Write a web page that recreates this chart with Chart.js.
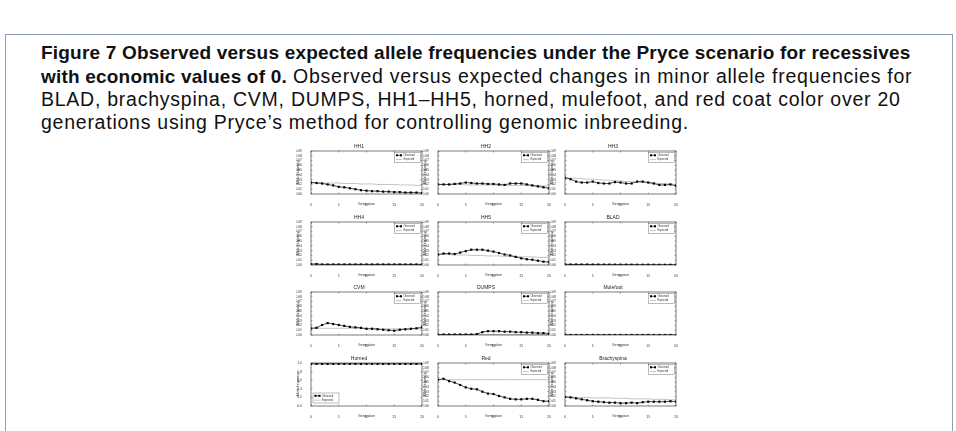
<!DOCTYPE html>
<html>
<head>
<meta charset="utf-8">
<script src="https://cdn.jsdelivr.net/npm/chart.js@4/dist/chart.umd.min.js"></script>
<style>
body { margin:0; background:#fff; width:956px; height:431px; overflow:hidden; position:relative; font-family:"Liberation Sans", Arial, sans-serif; }
.frame { position:absolute; left:5px; top:34px; width:946px; height:400px; border-left:1px solid #8d9db5; border-top:1px solid #8d9db5; border-right:1px solid #8d9db5; }
.cap { position:absolute; left:41px; top:41px; font-size:19.5px; line-height:22.5px; white-space:nowrap; color:#111; letter-spacing:0.75px; }
.cap b { font-size:19px; letter-spacing:0.2px; }
.panel { position:absolute; }
</style>
</head>
<body>
<div class="frame"></div>
<div class="cap">
<b>Figure 7 Observed versus expected allele frequencies under the Pryce scenario for recessives</b><br>
<b>with economic values of 0.</b> Observed versus expected changes in minor allele frequencies for<br>
BLAD, brachyspina, CVM, DUMPS, HH1–HH5, horned, mulefoot, and red coat color over 20<br>
generations using Pryce’s method for controlling genomic inbreeding.
</div>
<script>
"use strict";

// generations on the x axis
const generations = [0,1,2,3,4,5,6,7,8,9,10,11,12,13,14,15,16,17,18,19,20];
const panelTitles = ['HH1','HH2','HH3','HH4','HH5','BLAD','CVM','DUMPS','Mulefoot','Horned','Red','Brachyspina'];
const freqTicks = [0,0.01,0.02,0.03,0.04,0.05,0.06,0.07,0.08,0.09];
const hornedTicks = [0,0.2,0.4,0.6,0.8,1.0];
const genTicks = [0,5,10,15,20];

// observed / expected minor allele frequencies
const hh1Observed = [0.024,0.023,0.022,0.020,0.018,0.015,0.014,0.012,0.010,0.008,0.007,0.006,0.006,0.005,0.005,0.004,0.004,0.003,0.003,0.003,0.002];
const hh1Expected = [0.024,0.024,0.023,0.023,0.023,0.023,0.022,0.022,0.022,0.021,0.021,0.021,0.020,0.020,0.020,0.020,0.019,0.019,0.019,0.018,0.018];
const hh2Observed = [0.020,0.020,0.020,0.021,0.022,0.024,0.023,0.022,0.022,0.021,0.021,0.020,0.019,0.022,0.022,0.022,0.020,0.018,0.016,0.014,0.012];
const hh2Expected = [0.020,0.020,0.020,0.020,0.020,0.019,0.019,0.019,0.019,0.019,0.019,0.018,0.018,0.018,0.018,0.018,0.018,0.017,0.017,0.017,0.017];
const hh3Observed = [0.034,0.031,0.026,0.024,0.024,0.026,0.023,0.022,0.022,0.025,0.024,0.022,0.022,0.026,0.026,0.024,0.022,0.019,0.019,0.020,0.017];
const hh3Expected = [0.034,0.033,0.033,0.032,0.031,0.031,0.030,0.029,0.029,0.028,0.027,0.026,0.026,0.025,0.024,0.024,0.023,0.022,0.022,0.021,0.020];
const hh4Observed = [0.002,0.002,0.001,0.001,0.001,0.001,0.001,0.001,0.001,0.001,0.001,0.001,0.001,0.001,0.001,0.001,0.001,0.001,0.001,0.001,0.001];
const hh4Expected = [0.002,0.002,0.002,0.002,0.002,0.002,0.002,0.002,0.002,0.002,0.002,0.002,0.002,0.002,0.002,0.002,0.002,0.002,0.002,0.002,0.002];
const hh5Observed = [0.022,0.024,0.024,0.023,0.026,0.029,0.032,0.032,0.032,0.030,0.028,0.025,0.022,0.020,0.017,0.014,0.012,0.011,0.009,0.007,0.006];
const hh5Expected = [0.022,0.022,0.022,0.021,0.021,0.021,0.020,0.020,0.020,0.019,0.019,0.019,0.018,0.018,0.018,0.017,0.017,0.017,0.016,0.016,0.016];
const bladObserved = [0.0015,0.001,0.001,0.001,0.001,0.0008,0.0008,0.0008,0.0007,0.0007,0.0006,0.0006,0.0006,0.0005,0.0005,0.0005,0.0005,0.0004,0.0004,0.0004,0.0004];
const bladExpected = [0.0015,0.0015,0.0015,0.0015,0.0014,0.0014,0.0014,0.0014,0.0014,0.0013,0.0013,0.0013,0.0013,0.0013,0.0012,0.0012,0.0012,0.0012,0.0012,0.0011,0.0011];
const cvmObserved = [0.014,0.015,0.021,0.025,0.023,0.021,0.019,0.017,0.016,0.015,0.013,0.013,0.012,0.011,0.010,0.009,0.011,0.012,0.013,0.014,0.016];
const cvmExpected = [0.014,0.014,0.014,0.014,0.014,0.014,0.014,0.014,0.014,0.014,0.014,0.014,0.013,0.013,0.013,0.013,0.013,0.013,0.013,0.013,0.013];
const dumpsObserved = [0.001,0.001,0.001,0.001,0.001,0.001,0.001,0.002,0.006,0.008,0.008,0.008,0.007,0.007,0.006,0.006,0.005,0.005,0.004,0.004,0.003];
const dumpsExpected = [0.001,0.001,0.001,0.001,0.001,0.001,0.001,0.001,0.001,0.001,0.001,0.001,0.001,0.001,0.001,0.001,0.001,0.001,0.001,0.001,0.001];
const mulefootObserved = [0.0006,0,0,0,0,0,0,0,0,0,0,0,0,0,0,0,0,0,0,0,0];
const mulefootExpected = [0.0006,0.0006,0.0006,0.0006,0.0006,0.0006,0.0006,0.0006,0.0006,0.0006,0.0006,0.0006,0.0006,0.0006,0.0006,0.0006,0.0006,0.0006,0.0006,0.0006,0.0006];
const hornedObserved = [0.98,0.98,0.98,0.98,0.98,0.98,0.98,0.98,0.98,0.98,0.98,0.98,0.98,0.98,0.98,0.98,0.98,0.98,0.98,0.98,0.98];
const hornedExpected = [0.98,0.98,0.98,0.98,0.98,0.98,0.98,0.98,0.98,0.98,0.98,0.98,0.98,0.98,0.98,0.98,0.98,0.98,0.98,0.98,0.98];
const redObserved = [0.055,0.057,0.052,0.049,0.044,0.039,0.036,0.035,0.030,0.026,0.025,0.021,0.018,0.015,0.014,0.014,0.015,0.015,0.013,0.010,0.010];
const redExpected = [0.055,0.055,0.055,0.055,0.055,0.055,0.055,0.055,0.055,0.055,0.055,0.055,0.055,0.055,0.055,0.055,0.055,0.055,0.055,0.055,0.055];
const brachyObserved = [0.019,0.018,0.016,0.014,0.012,0.010,0.009,0.008,0.007,0.007,0.006,0.006,0.007,0.006,0.008,0.009,0.009,0.009,0.009,0.010,0.009];
const brachyExpected = [0.019,0.019,0.018,0.018,0.018,0.017,0.017,0.017,0.017,0.016,0.016,0.016,0.015,0.015,0.015,0.015,0.014,0.014,0.014,0.013,0.013];

const observedSets = [hh1Observed,hh2Observed,hh3Observed,hh4Observed,hh5Observed,bladObserved,cvmObserved,dumpsObserved,mulefootObserved,hornedObserved,redObserved,brachyObserved];
const expectedSets = [hh1Expected,hh2Expected,hh3Expected,hh4Expected,hh5Expected,bladExpected,cvmExpected,dumpsExpected,mulefootExpected,hornedExpected,redExpected,brachyExpected];

// layout of the small multiples (plot area corners)
const colLeft = [311, 438, 565];
const rowTop = [151, 221.5, 292, 362.5];
const PLOT_W = 111, PLOT_H = 43;
const AXIS_W = 15, TITLE_H = 8, XAXIS_H = 12, RIGHT_PAD = 4;

// matplotlib-ish frame with inward ticks
const framePlugin = {
  id: 'frame',
  afterDatasetsDraw(chart) {
    const {ctx, chartArea: a, scales} = chart;
    ctx.save();
    ctx.strokeStyle = '#222';
    ctx.lineWidth = 0.6;
    ctx.strokeRect(a.left, a.top, a.right - a.left, a.bottom - a.top);
    ctx.lineWidth = 0.4;
    ctx.beginPath();
    scales.x.ticks.forEach(t => {
      const px = scales.x.getPixelForValue(t.value);
      ctx.moveTo(px, a.bottom); ctx.lineTo(px, a.bottom - 1.5);
      ctx.moveTo(px, a.top); ctx.lineTo(px, a.top + 1.5);
    });
    scales.y.ticks.forEach(t => {
      const py = scales.y.getPixelForValue(t.value);
      ctx.moveTo(a.left, py); ctx.lineTo(a.left + 1.5, py);
      ctx.moveTo(a.right, py); ctx.lineTo(a.right - 1.5, py);
    });
    ctx.stroke();
    ctx.restore();
  }
};

// legend box drawn inside the plot area
const innerLegend = {
  id: 'innerLegend',
  afterDraw(chart, args, opts) {
    const {ctx, chartArea: a} = chart;
    const w = 26, h = 10;
    const x = opts.corner === 'bl' ? a.left + 2 : a.right - w - 1.5;
    const y = opts.corner === 'bl' ? a.bottom - h - 3 : a.top + 1.5;
    ctx.save();
    ctx.fillStyle = '#fff';
    ctx.strokeStyle = '#555';
    ctx.lineWidth = 0.4;
    ctx.fillRect(x, y, w, h);
    ctx.strokeRect(x, y, w, h);
    ctx.font = '2.6px "Liberation Sans", Arial, sans-serif';
    ctx.textBaseline = 'middle';
    chart.data.datasets.forEach((ds, i) => {
      const ly = y + 2.8 + i * 4.3;
      ctx.strokeStyle = ds.borderColor;
      ctx.lineWidth = ds.borderWidth;
      ctx.beginPath(); ctx.moveTo(x + 1.5, ly); ctx.lineTo(x + 7.5, ly); ctx.stroke();
      if (ds.pointRadius > 0) {
        ctx.fillStyle = ds.pointBackgroundColor;
        ctx.fillRect(x + 1.5, ly - 1, 2, 2);
        ctx.fillRect(x + 5.5, ly - 1, 2, 2);
      }
      ctx.fillStyle = '#333';
      ctx.fillText(ds.label, x + 9, ly);
    });
    ctx.restore();
  }
};

function makePanel(i) {
  const col = i % 3, row = Math.floor(i / 3);
  const horned = panelTitles[i] === 'Horned';
  const W = AXIS_W + PLOT_W + RIGHT_PAD, H = TITLE_H + PLOT_H + XAXIS_H;
  const div = document.createElement('div');
  div.className = 'panel';
  div.style.left = (colLeft[col] - AXIS_W) + 'px';
  div.style.top = (rowTop[row] - TITLE_H) + 'px';
  const canvas = document.createElement('canvas');
  canvas.width = W; canvas.height = H;
  canvas.style.width = W + 'px'; canvas.style.height = H + 'px';
  div.appendChild(canvas);
  document.body.appendChild(div);

  const yTicks = horned ? hornedTicks : freqTicks;
  const tickFont = {size: 3.4, family: '"Liberation Sans", Arial, sans-serif'};

  new Chart(canvas, {
    type: 'line',
    data: {
      labels: generations,
      datasets: [{
        label: 'Observed',
        data: observedSets[i],
        borderColor: '#000',
        borderWidth: 0.7,
        pointStyle: 'rect',
        pointRadius: 1.55,
        pointBackgroundColor: '#000',
        pointBorderWidth: 0
      }, {
        label: 'Expected',
        data: expectedSets[i],
        borderColor: '#9a9a9a',
        borderWidth: 0.6,
        pointRadius: 0
      }]
    },
    options: {
      responsive: false,
      animation: false,
      layout: {padding: {right: RIGHT_PAD, top: 0, left: 0, bottom: 0}},
      plugins: {
        legend: {display: false},
        tooltip: {enabled: false},
        title: {display: true, text: panelTitles[i], color: '#222', font: {size: 5, weight: 'normal', family: '"Liberation Sans", Arial, sans-serif'}, padding: {top: 1, bottom: 1}},
        innerLegend: {corner: horned ? 'bl' : 'tr'}
      },
      scales: {
        x: {
          type: 'linear', min: 0, max: 20,
          afterBuildTicks: s => { s.ticks = genTicks.map(v => ({value: v})); },
          grid: {display: false}, border: {display: false},
          ticks: {font: tickFont, color: '#333', padding: 1, maxRotation: 0, autoSkip: false},
          title: {display: true, text: 'Generation', font: tickFont, color: '#333', padding: 0},
          afterFit: s => { s.height = XAXIS_H; }
        },
        y: {
          min: 0, max: horned ? 1.0 : 0.09,
          afterBuildTicks: s => { s.ticks = yTicks.map(v => ({value: v})); },
          grid: {display: false}, border: {display: false},
          ticks: {font: tickFont, color: '#333', padding: 1, autoSkip: false, callback: v => v.toFixed(horned ? 1 : 2)},
          title: {display: true, text: 'Allele frequency', font: tickFont, color: '#333', padding: 0},
          afterFit: s => { s.width = AXIS_W; }
        }
      }
    },
    plugins: [framePlugin, innerLegend]
  });
}

for (let i = 0; i < panelTitles.length; i++) makePanel(i);
</script>
</body>
</html>
